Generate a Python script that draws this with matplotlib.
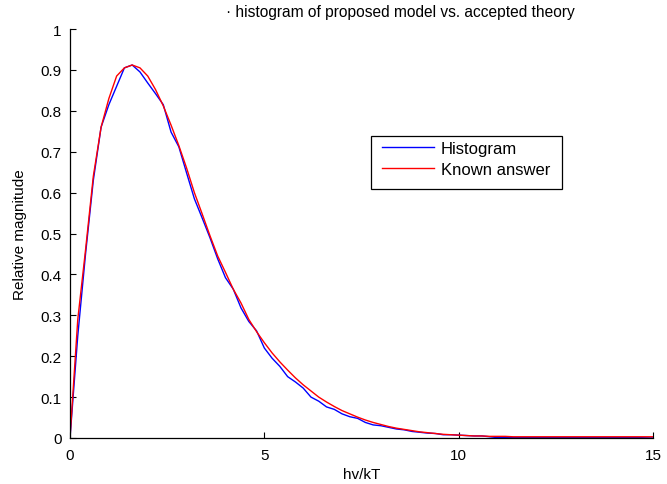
import matplotlib
matplotlib.use('Agg')
import matplotlib.pyplot as plt
from matplotlib.patches import Rectangle

plt.rcParams['font.family'] = ['Liberation Sans', 'DejaVu Sans']

# bin positions (hv/kT), step 0.2
x_pts = [round(0.2 * i, 1) for i in range(76)]

hist_vals = [
    0.0, 0.25, 0.45, 0.63, 0.76, 0.815, 0.86, 0.905, 0.912, 0.895,
    0.868, 0.842, 0.815, 0.748, 0.712, 0.648, 0.585, 0.538, 0.49, 0.438,
    0.392, 0.364, 0.318, 0.285, 0.262, 0.22, 0.195, 0.175, 0.15, 0.137,
    0.122, 0.10, 0.09, 0.076, 0.07, 0.059, 0.052, 0.048, 0.038, 0.032,
    0.03, 0.026, 0.022, 0.02, 0.016, 0.014, 0.012, 0.011, 0.008, 0.008,
    0.007, 0.006, 0.005, 0.005, 0.003, 0.001, 0.001, 0.001, 0.001, 0.001,
    0.001, 0.001, 0.001, 0.001, 0.001, 0.001, 0.001, 0.001, 0.001, 0.001,
    0.001, 0.001, 0.001, 0.001, 0.0005, 0.0,
]

known_vals = [
    0.0, 0.29, 0.46, 0.64, 0.76, 0.83, 0.885, 0.905, 0.912, 0.905,
    0.885, 0.852, 0.812, 0.765, 0.715, 0.66, 0.60, 0.548, 0.495, 0.445,
    0.405, 0.364, 0.33, 0.29, 0.26, 0.233, 0.208, 0.186, 0.166, 0.147,
    0.13, 0.115, 0.10, 0.088, 0.077, 0.067, 0.059, 0.051, 0.044, 0.038,
    0.033, 0.028, 0.024, 0.021, 0.018, 0.015, 0.013, 0.011, 0.009, 0.008,
    0.007, 0.006, 0.005, 0.005, 0.004, 0.004, 0.004, 0.003, 0.003, 0.003,
    0.003, 0.003, 0.003, 0.003, 0.003, 0.003, 0.003, 0.003, 0.003, 0.003,
    0.003, 0.003, 0.003, 0.003, 0.003, 0.003,
]

x_ticks = [0, 5, 10, 15]
y_ticks = [0, 0.1, 0.2, 0.3, 0.4, 0.5, 0.6, 0.7, 0.8, 0.9, 1]
y_ticklabels = ['0', '0.1', '0.2', '0.3', '0.4', '0.5', '0.6', '0.7', '0.8', '0.9', '1']

W, H = 667, 485
fig = plt.figure(figsize=(W / 100, H / 100), dpi=100)
ax = fig.add_axes([70 / W, 1 - 439 / H, 583 / W, 409 / H])

ax.plot(x_pts, hist_vals, color='#0000ff', lw=1.0, label='Histogram')
ax.plot(x_pts, known_vals, color='#ff0000', lw=1.0, label='Known answer')

ax.set_xlim(0, 15)
ax.set_ylim(0, 1)
ax.set_xticks(x_ticks)
ax.set_xticklabels([str(t) for t in x_ticks])
ax.set_yticks(y_ticks)
ax.set_yticklabels(y_ticklabels)
ax.tick_params(direction='in', length=4, width=0.8, labelsize=11)
ax.tick_params(axis='x', pad=7)
ax.tick_params(axis='y', pad=6)
ax.spines['top'].set_visible(False)
ax.spines['right'].set_visible(False)
for s in ('left', 'bottom'):
    ax.spines[s].set_linewidth(0.9)

ax.set_xlabel('hv/kT', fontsize=11, labelpad=4)
ax.set_ylabel('Relative magnitude', fontsize=11, labelpad=10)

fig.text(400 / W, 1 - 13 / H, '\u00b7 histogram of proposed model vs. accepted theory',
         ha='center', va='center', fontsize=11.2)

# legend: entries without frame, box drawn separately (text overflows like the original)
leg = fig.legend(loc='upper left', bbox_to_anchor=(382 / W, 1 - 142 / H),
                 fontsize=12, frameon=False, handlelength=3.1,
                 borderpad=0, labelspacing=0.36, handletextpad=0.42,
                 borderaxespad=0)
fig.patches.append(Rectangle((371 / W, 1 - 190 / H), 191 / W, 53 / H,
                             transform=fig.transFigure, fill=False,
                             edgecolor='black', lw=0.9))

fig.savefig('out.png', dpi=100)
